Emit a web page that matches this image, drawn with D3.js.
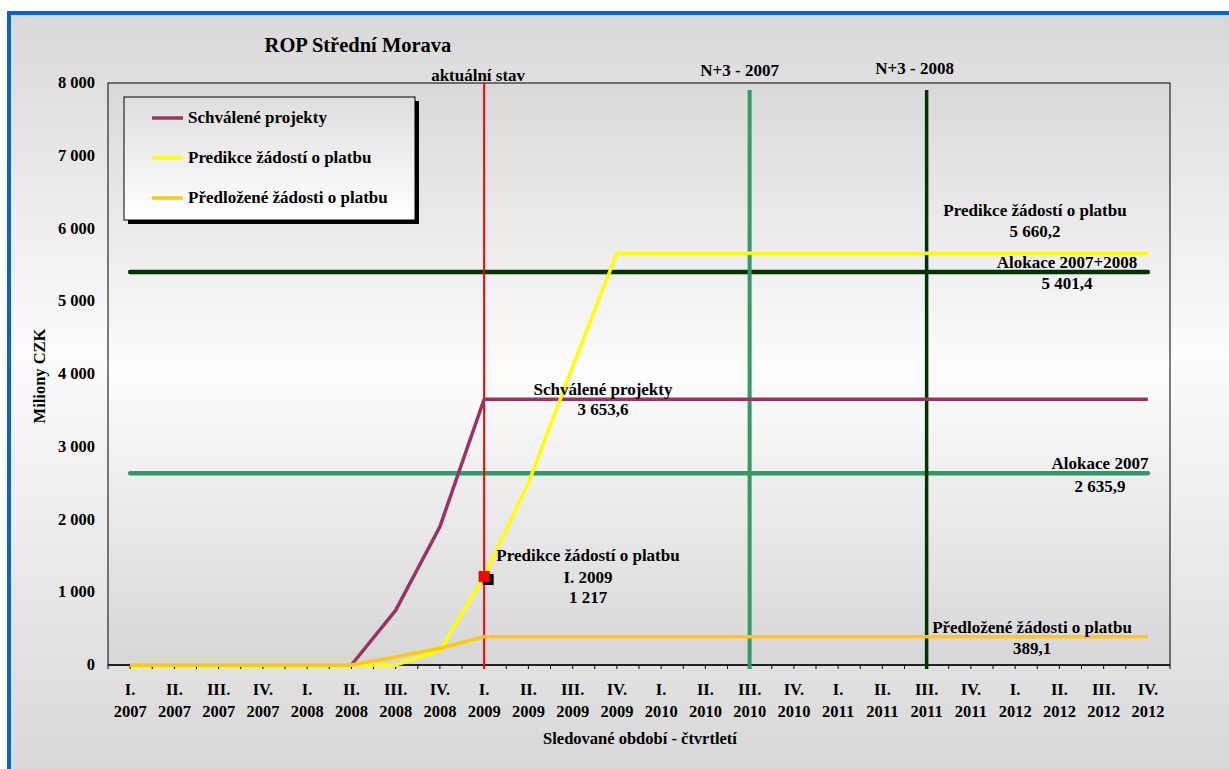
<!DOCTYPE html>
<html><head><meta charset="utf-8">
<script src="https://cdn.jsdelivr.net/npm/d3@7"></script>
<style>
body{margin:0;background:#fff;}
svg{display:block;}
text{font-family:"Liberation Serif","Times New Roman",serif;font-weight:bold;fill:#000;}
</style>
</head><body>
<svg id="c" width="1229" height="769"></svg>
<script>
// ---- data ----
const quarterRoman = ["I.","II.","III.","IV.","I.","II.","III.","IV.","I.","II.","III.","IV.",
                      "I.","II.","III.","IV.","I.","II.","III.","IV.","I.","II.","III.","IV."];
const quarterYear  = ["2007","2007","2007","2007","2008","2008","2008","2008","2009","2009","2009","2009",
                      "2010","2010","2010","2010","2011","2011","2011","2011","2012","2012","2012","2012"];
const schvalene  = [0,0,0,0,0,0,750,1900,3653.6,3653.6,3653.6,3653.6,3653.6,3653.6,3653.6,3653.6,3653.6,3653.6,3653.6,3653.6,3653.6,3653.6,3653.6,3653.6];
const predikce   = [0,0,0,0,0,0,0,200,1217,2500,4100,5660.2,5660.2,5660.2,5660.2,5660.2,5660.2,5660.2,5660.2,5660.2,5660.2,5660.2,5660.2,5660.2];
const predlozene = [0,0,0,0,0,0,110,230,389.1,389.1,389.1,389.1,389.1,389.1,389.1,389.1,389.1,389.1,389.1,389.1,389.1,389.1,389.1,389.1];
const alokaceNames  = ["Alokace 2007","Alokace 2007+2008"];
const alokaceValues = [2635.9, 5401.4];
const markerIndex = [8, 14, 18];
const markerNames = ["aktuální stav","N+3 - 2007","N+3 - 2008"];
const currentIndex = 8;           // I. 2009 prediction point
const currentPrediction = 1217;
const yTicks = [0,1000,2000,3000,4000,5000,6000,7000,8000];
const seriesNames = ["Schválené projekty","Predikce žádostí o platbu","Předložené žádosti o platbu"];
const seriesColors = ["#993366","#FFFF00","#FFCC00"];

// ---- layout ----
const svg = d3.select("#c");
const L = 108, R = 1170, T = 83, B = 665;
const loc = d3.formatLocale({decimal:",", thousands:" ", grouping:[3], currency:["",""]});
const f0 = loc.format(",.0f"), f1 = loc.format(",.1f");

const idx = d3.range(quarterRoman.length);
const x = d3.scalePoint().domain(idx).range([L, R]).padding(0.5);
const y = d3.scaleLinear().domain([0, 8000]).range([B, T]);

const defs = svg.append("defs");
function vgrad(id, stops, y1, y2){
  const g = defs.append("linearGradient").attr("id", id)
    .attr("gradientUnits","userSpaceOnUse").attr("x1",0).attr("x2",0).attr("y1",y1).attr("y2",y2);
  stops.forEach(s => g.append("stop").attr("offset", s[0]).attr("stop-color", s[1]));
}
vgrad("outerG", [[0,"#d8d8d8"],[0.45,"#fbfbfb"],[1,"#d8d8d8"]], 13, 769);
vgrad("plotG",  [[0,"#d9d9d9"],[0.5,"#fcfcfc"],[1,"#d6d6d6"]], T, B);
vgrad("legG",   [[0,"#dedede"],[1,"#ffffff"]], 97, 220);

// outer frame
svg.append("rect").attr("x",9).attr("y",13).attr("width",1260).attr("height",800)
  .attr("fill","url(#outerG)").attr("stroke","#0a64c8").attr("stroke-width",4);

// title
svg.append("text").attr("x",358).attr("y",52).attr("text-anchor","middle")
  .style("font-size","20.5px").text("ROP Střední Morava");

// plot area
svg.append("rect").attr("x",L).attr("y",T).attr("width",R-L).attr("height",B-T)
  .attr("fill","url(#plotG)").attr("stroke","#000").attr("stroke-width",1);

// y tick labels
svg.append("g").selectAll("text").data(yTicks).join("text")
  .attr("x",95).attr("y",d => y(d)+5).attr("text-anchor","end")
  .style("font-size","16.5px").text(d => f0(d));

// y axis title
svg.append("text").attr("transform","translate(45,376) rotate(-90)")
  .attr("text-anchor","middle").style("font-size","16.5px").text("Miliony CZK");

// x axis ticks (half-band)
const step = x.step();
const tickPos = d3.range(quarterRoman.length*2+1).map(i => L + i*step/2);
svg.append("g").selectAll("line").data(tickPos).join("line")
  .attr("x1",d=>d).attr("x2",d=>d).attr("y1",B).attr("y2",B+4)
  .attr("stroke","#000").attr("stroke-width",1);
svg.append("line").attr("x1",L).attr("x2",R).attr("y1",B).attr("y2",B)
  .attr("stroke","#222").attr("stroke-width",2);

// x tick labels
const xl = svg.append("g").selectAll("text").data(idx).join("text")
  .attr("text-anchor","middle").style("font-size","16.5px");
xl.append("tspan").attr("x",d=>x(d)).attr("y",695).text(d=>quarterRoman[d]);
xl.append("tspan").attr("x",d=>x(d)).attr("y",717).text(d=>quarterYear[d]);

svg.append("text").attr("x",640).attr("y",744).attr("text-anchor","middle")
  .style("font-size","16.5px").text("Sledované období - čtvrtletí");

// allocation horizontal lines
const alColors = ["#339966","#003300"];
svg.append("g").selectAll("line").data(alokaceValues).join("line")
  .attr("x1",x(0)).attr("x2",x(idx.length-1)).attr("y1",d=>y(d)).attr("y2",d=>y(d))
  .attr("stroke",(d,i)=>alColors[i]).attr("stroke-width",4.5).attr("stroke-linecap","round");

// vertical marker lines
const vColors = ["#FF0000","#339966","#003300"];
const vWidths = [2,4,3.5];
const vTop = [T, 90, 90];
svg.append("g").selectAll("line").data(markerIndex).join("line")
  .attr("x1",d=>x(d)).attr("x2",d=>x(d)).attr("y1",(d,i)=>vTop[i]).attr("y2",B+4)
  .attr("stroke",(d,i)=>vColors[i]).attr("stroke-width",(d,i)=>vWidths[i]);

// marker titles
const mOff = [[-6,81],[-10,76],[-12,74]];
svg.append("g").selectAll("text").data(markerIndex).join("text")
  .attr("x",(d,i)=>x(d)+mOff[i][0]).attr("y",(d,i)=>mOff[i][1]).attr("text-anchor","middle")
  .style("font-size","17px").text((d,i)=>markerNames[i]);

// series lines
const allSeries = [schvalene, predikce, predlozene];
const line = d3.line().x((d,i)=>x(i)).y(d=>y(d));
[0,1,2].forEach(k => {
  svg.append("path").datum(allSeries[k]).attr("d",line)
    .attr("fill","none").attr("stroke",seriesColors[k]).attr("stroke-width",3.5)
    .attr("stroke-linejoin","round");
});

// prediction point marker (with shadow)
svg.append("rect").attr("x",x(currentIndex)-1.5).attr("y",y(currentPrediction)-2.5)
  .attr("width",11).attr("height",11).attr("fill","#000");
svg.append("rect").attr("x",x(currentIndex)-5.5).attr("y",y(currentPrediction)-5.5)
  .attr("width",11).attr("height",11).attr("fill","#FF0000");

// annotations
function annot(cx, lines, baselines){
  const t = svg.append("text").attr("text-anchor","middle").style("font-size","17px");
  lines.forEach((s,i)=> t.append("tspan").attr("x",cx).attr("y",baselines[i]).text(s));
}
const last = predikce[predikce.length-1];
annot(1035, [seriesNames[1], f1(last)], [y(last)-37, y(last)-16]);
annot(1067, [alokaceNames[1], f1(alokaceValues[1])], [y(alokaceValues[1])-4, y(alokaceValues[1])+17]);
annot(1100, [alokaceNames[0], f1(alokaceValues[0])], [y(alokaceValues[0])-4, y(alokaceValues[0])+19]);
const sl = schvalene[schvalene.length-1];
annot(603, [seriesNames[0], f1(sl)], [y(sl)-4, y(sl)+16]);
const pl = predlozene[predlozene.length-1];
annot(1032, [seriesNames[2], f1(pl)], [y(pl)-4, y(pl)+17]);
annot(588, [seriesNames[1], quarterRoman[currentIndex]+" "+quarterYear[currentIndex], f0(currentPrediction)],
      [y(currentPrediction)-15, y(currentPrediction)+7, y(currentPrediction)+27]);

// legend
const lg = svg.append("g");
lg.append("rect").attr("x",128).attr("y",101).attr("width",291).attr("height",123).attr("fill","#000");
lg.append("rect").attr("x",124).attr("y",97).attr("width",291).attr("height",123)
  .attr("fill","url(#legG)").attr("stroke","#000").attr("stroke-width",1);
const lyPos = [118,158,198];
seriesNames.forEach((n,i)=>{
  lg.append("line").attr("x1",152).attr("x2",183).attr("y1",lyPos[i]).attr("y2",lyPos[i])
    .attr("stroke",seriesColors[i]).attr("stroke-width",3.5);
  lg.append("text").attr("x",188).attr("y",lyPos[i]+5).style("font-size","17px").text(n);
});
</script>
</body></html>
